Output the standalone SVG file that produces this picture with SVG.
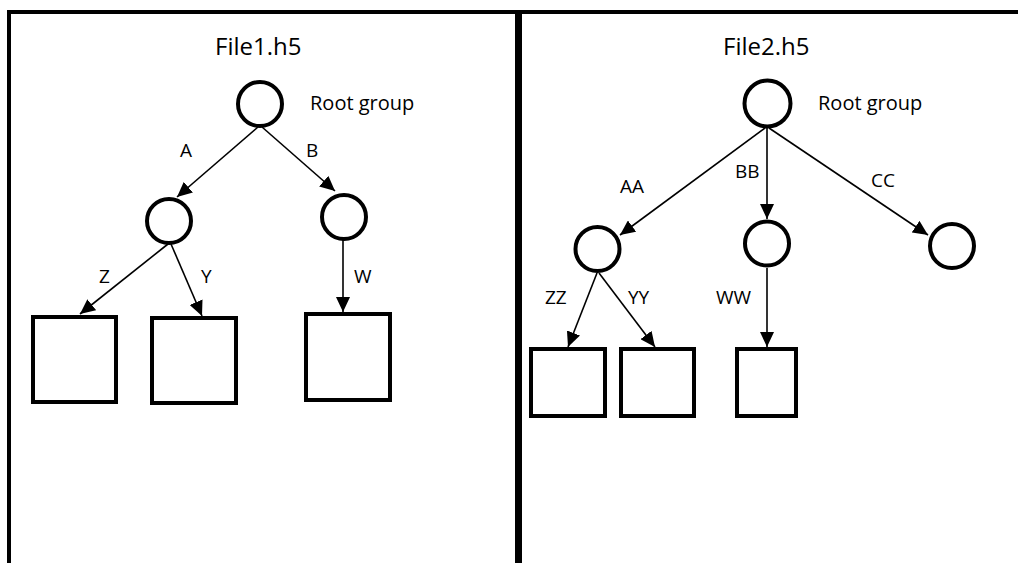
<svg xmlns="http://www.w3.org/2000/svg" width="1018" height="563" viewBox="0 0 1018 563">
<style>
.frame{fill:none;stroke:#000;}
.node{fill:#fff;stroke:#000;stroke-width:4;}
.edge{fill:none;stroke:#000;stroke-width:1.6;marker-end:url(#arr);}
.t{font-family:"Open Sans","Liberation Sans",sans-serif;fill:#000;}
.title{font-size:24px;}
.rg{font-size:20px;}
.lbl{font-size:19px;}
</style>
<defs>
<marker id="arr" markerUnits="userSpaceOnUse" markerWidth="16" markerHeight="14" refX="15" refY="7" orient="auto">
<path d="M0,0 L15,7 L0,14 z" fill="#000"/>
</marker>
</defs>
<rect width="1018" height="563" fill="#fff"/>
<g id="frame">
<line class="frame" x1="7" y1="12" x2="1018" y2="12" stroke-width="4"/>
<line class="frame" x1="9" y1="10" x2="9" y2="563" stroke-width="4"/>
<line class="frame" x1="518.5" y1="10" x2="518.5" y2="563" stroke-width="7"/>
</g>
<g id="titles">
<text class="t title" x="215" y="55">File1.h5</text>
<text class="t title" x="723" y="55">File2.h5</text>
</g>
<g id="connectors">
<line class="edge" x1="258" y1="127" x2="177" y2="197"/>
<line class="edge" x1="262" y1="127" x2="335" y2="191"/>
<line class="edge" x1="168" y1="244" x2="80" y2="314"/>
<line class="edge" x1="171" y1="244" x2="202" y2="316"/>
<line class="edge" x1="343" y1="240" x2="343" y2="312"/>
<line class="edge" x1="765" y1="128" x2="620" y2="235"/>
<line class="edge" x1="767" y1="128" x2="767" y2="219"/>
<line class="edge" x1="769" y1="128" x2="928" y2="235"/>
<line class="edge" x1="597" y1="273" x2="568" y2="347"/>
<line class="edge" x1="599" y1="273" x2="655" y2="347"/>
<line class="edge" x1="767" y1="268" x2="767" y2="347"/>
</g>
<g id="labels">
<text class="t lbl" x="180" y="157">A</text>
<text class="t lbl" x="306" y="157">B</text>
<text class="t lbl" x="99" y="283">Z</text>
<text class="t lbl" x="201" y="283">Y</text>
<text class="t lbl" x="354" y="283">W</text>
<text class="t lbl" x="620" y="193">AA</text>
<text class="t lbl" x="735" y="178">BB</text>
<text class="t lbl" x="871" y="187">CC</text>
<text class="t lbl" x="545" y="304">ZZ</text>
<text class="t lbl" x="628" y="304">YY</text>
<text class="t lbl" x="716" y="304">WW</text>
</g>
<g id="root1">
<circle class="node" cx="260" cy="104" r="22"/>
<text class="t rg" x="310" y="110">Root group</text>
</g>
<g id="g1a"><circle class="node" cx="169" cy="221" r="22"/></g>
<g id="g1b"><circle class="node" cx="344" cy="217" r="22"/></g>
<g id="d1z"><rect class="node" x="33" y="317" width="83" height="85"/></g>
<g id="d1y"><rect class="node" x="152" y="318" width="84" height="85"/></g>
<g id="d1w"><rect class="node" x="306" y="314" width="84" height="86"/></g>
<g id="root2">
<circle class="node" cx="767.5" cy="103.5" r="23"/>
<text class="t rg" x="818" y="110">Root group</text>
</g>
<g id="g2aa"><circle class="node" cx="597.5" cy="249" r="22"/></g>
<g id="g2bb"><circle class="node" cx="767" cy="243.5" r="22"/></g>
<g id="g2cc"><circle class="node" cx="952" cy="246" r="22"/></g>
<g id="d2zz"><rect class="node" x="531" y="349" width="74" height="67"/></g>
<g id="d2yy"><rect class="node" x="621" y="349" width="73" height="67"/></g>
<g id="d2ww"><rect class="node" x="737" y="349" width="59" height="67"/></g>
</svg>
